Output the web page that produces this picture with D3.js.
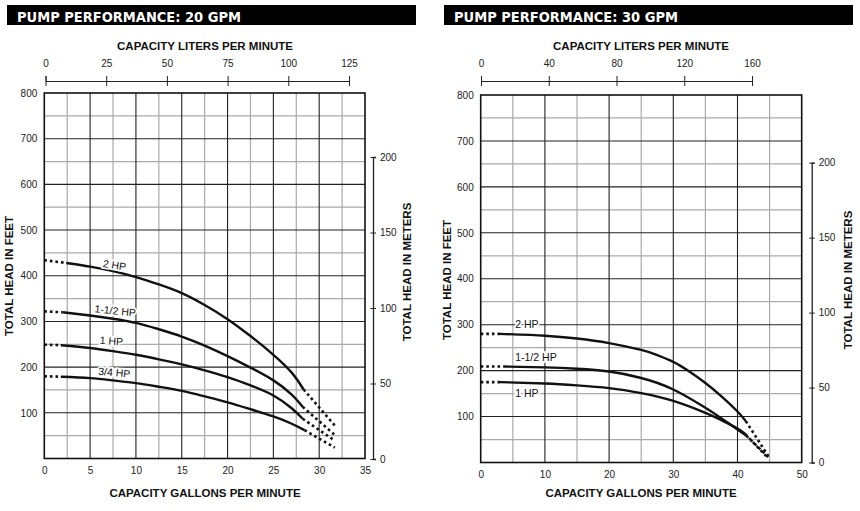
<!DOCTYPE html>
<html>
<head>
<meta charset="utf-8">
<script src="https://cdn.jsdelivr.net/npm/d3@7"></script>
<style>
  body { margin: 0; background: #fff; }
  svg { display: block; }
  .tick text { font-family: "Liberation Sans", Arial, sans-serif; font-size: 10px; fill: #222; }
  .ttl { font-family: "Liberation Sans", Arial, sans-serif; font-size: 11.5px; font-weight: bold; fill: #111; }
  .hdr { font-family: "DejaVu Sans Condensed", "DejaVu Sans", sans-serif; font-size: 14.5px; font-weight: bold; fill: #fff; }
  .lbl { font-family: "Liberation Sans", Arial, sans-serif; font-size: 10.5px; fill: #111;
         stroke: #fff; stroke-width: 3.5px; paint-order: stroke; }
</style>
</head>
<body>
<div id="chart"></div>
<script>
// ---- data: 20 GPM pumps (gpm, feet) ----
var names20 = ["2 HP", "1-1/2 HP", "1 HP", "3/4 HP"];
var start20 = [434, 322, 249, 180];           // head at 0 gpm (dotted part)
var hp2_20   = [[2.4, 428], [5, 420], [7.5, 410], [10, 397], [12.5, 381], [15, 362], [17.5, 336],
                [20, 305], [22.5, 268], [25, 227], [27, 188], [28.3, 151]];
var hp15_20  = [[2, 320], [5, 313], [7.5, 306], [10, 297], [12.5, 283], [15, 267], [17.5, 247],
                [20, 224], [22.5, 199], [25, 171], [27, 140], [28.2, 113]];
var hp1_20   = [[1.8, 248], [5, 242], [7.5, 235], [10, 227], [12.5, 217], [15, 206], [17.5, 193],
                [20, 178], [22.5, 160], [25, 138], [27, 110], [28.2, 87]];
var hp34_20  = [[1.8, 179], [5, 176], [7.5, 171], [10, 165], [12.5, 157], [15, 148], [17.5, 136],
                [20, 123], [22.5, 108], [25, 92], [27, 76], [28.4, 62]];
var end20 = [[31.8, 70], [31.8, 50], [31.7, 39], [31.7, 24]];   // dotted tails

// ---- data: 30 GPM pumps ----
var names30 = ["2 HP", "1-1/2 HP", "1 HP"];
var start30 = [280, 209, 175];
var hp2_30  = [[3, 280], [10, 276], [15, 270], [20, 260], [25, 245], [27.5, 234], [30, 219], [32.5, 198],
               [35, 173], [37.5, 144], [40, 111], [41.3, 90]];
var hp15_30 = [[3.5, 209], [10, 207], [15, 204], [20, 198], [25, 184], [30, 159], [35, 119], [37.5, 96],
               [40, 72], [41.4, 58]];
var hp1_30  = [[3, 175], [10, 172], [15, 168], [20, 162], [25, 151], [30, 134], [35, 108], [37.5, 92],
               [40, 74], [41.2, 62]];
var end30 = [[44.8, 14], [44.8, 12], [44.8, 9]];

var feetTicks = [100, 200, 300, 400, 500, 600, 700, 800];
var meterTicks = [0, 50, 100, 150, 200];
var liters20 = [0, 25, 50, 75, 100, 125];
var liters30 = [0, 40, 80, 120, 160];

var svg = d3.select("#chart").append("svg").attr("width", 860).attr("height", 511);

function drawChart(c) {
  var g = svg.append("g");
  var x = d3.scaleLinear().domain([0, c.maxX]).range(c.xr);
  var y = d3.scaleLinear().domain([0, 800]).range(c.yr);
  var lit = d3.scaleLinear().domain([0, c.litMax]).range(c.lr);
  var met = d3.scaleLinear().domain([0, 200]).range(c.mr);

  // header bar
  g.append("rect").attr("x", c.hx[0]).attr("y", 5).attr("width", c.hx[1] - c.hx[0]).attr("height", 20).attr("fill", "#000");
  g.append("text").attr("class", "hdr").attr("x", c.hx[0] + 10).attr("y", 22).text(c.title);

  // grid - minor first
  var minorX = d3.range(c.minor, c.maxX, c.minor * 2);
  var majorX = d3.range(c.minor * 2, c.maxX, c.minor * 2);
  var minorY = d3.range(50, 800, 100);
  var majorY = d3.range(100, 800, 100);
  g.selectAll(".mx").data(minorX).enter().append("line")
    .attr("x1", x).attr("x2", x).attr("y1", y(0)).attr("y2", y(800))
    .attr("stroke", "#aaa").attr("stroke-width", 1.2);
  g.selectAll(".my").data(minorY).enter().append("line")
    .attr("x1", x(0)).attr("x2", x(c.maxX)).attr("y1", y).attr("y2", y)
    .attr("stroke", "#aaa").attr("stroke-width", 1.2);
  g.selectAll(".Mx").data(majorX).enter().append("line")
    .attr("x1", x).attr("x2", x).attr("y1", y(0)).attr("y2", y(800))
    .attr("stroke", "#222").attr("stroke-width", 1.1);
  g.selectAll(".My").data(majorY).enter().append("line")
    .attr("x1", x(0)).attr("x2", x(c.maxX)).attr("y1", y).attr("y2", y)
    .attr("stroke", "#222").attr("stroke-width", 1.1);
  g.append("rect").attr("x", x(0)).attr("y", y(800))
    .attr("width", x(c.maxX) - x(0)).attr("height", y(0) - y(800))
    .attr("fill", "none").attr("stroke", "#111").attr("stroke-width", 1.6);

  // axes
  var bx = g.append("g").attr("transform", "translate(0," + y(0) + ")")
    .call(d3.axisBottom(x).tickValues(d3.range(0, c.maxX + 1, c.step)).tickSize(0).tickPadding(8));
  bx.select(".domain").remove();

  var ly = g.append("g").attr("transform", "translate(" + x(0) + ",0)")
    .call(d3.axisLeft(y).tickValues(feetTicks).tickSize(0).tickPadding(7));
  ly.select(".domain").remove();

  var tx = g.append("g").attr("transform", "translate(0,81)")
    .call(d3.axisTop(lit).tickValues(c.litTicks).tickSizeOuter(0).tickSize(5).tickPadding(9));
  tx.selectAll(".tick line").attr("y1", 5).attr("y2", -5).attr("stroke", "#222");
  tx.select(".domain").attr("stroke", "#222");

  var ry = g.append("g").attr("transform", "translate(" + c.mx + ",0)")
    .call(d3.axisRight(met).tickValues(meterTicks).tickSizeOuter(0).tickSize(3).tickPadding(4));
  ry.selectAll(".tick line").attr("x1", -2.5).attr("x2", 3).attr("stroke", "#222");
  ry.select(".domain").attr("stroke", "#222").attr("stroke-width", 1.3);

  // titles
  g.append("text").attr("class", "ttl").attr("x", c.tc).attr("y", 50).attr("text-anchor", "middle").text("CAPACITY LITERS PER MINUTE");
  g.append("text").attr("class", "ttl").attr("x", c.tc).attr("y", 497).attr("text-anchor", "middle").text("CAPACITY GALLONS PER MINUTE");
  g.append("text").attr("class", "ttl").attr("text-anchor", "middle")
    .attr("transform", "translate(" + (c.fx) + "," + c.fy + ") rotate(-90)").text("TOTAL HEAD IN FEET");
  g.append("text").attr("class", "ttl").attr("text-anchor", "middle")
    .attr("transform", "translate(" + (c.tmx) + "," + c.tmy + ") rotate(-90)").text("TOTAL HEAD IN METERS");

  // curves
  var line = d3.line().x(function(d) { return x(d[0]); }).y(function(d) { return y(d[1]); })
    .curve(d3.curveNatural);
  var straight = d3.line().x(function(d) { return x(d[0]); }).y(function(d) { return y(d[1]); });
  c.curves.forEach(function(pts, i) {
    var first = pts[0], last = pts[pts.length - 1];
    g.append("path").attr("d", line(pts)).attr("fill", "none").attr("stroke", "#111").attr("stroke-width", 2.4);
    g.append("path").attr("d", straight([[0, c.starts[i]], first])).attr("fill", "none")
      .attr("stroke", "#111").attr("stroke-width", 2.6).attr("stroke-dasharray", "2.6,3");
    g.append("path").attr("d", straight([last, c.ends[i]])).attr("fill", "none")
      .attr("stroke", "#111").attr("stroke-width", 2.6).attr("stroke-dasharray", "2.6,3");
  });

  // curve labels
  c.labels.forEach(function(l, i) {
    g.append("text").attr("class", "lbl").attr("text-anchor", "middle")
      .attr("transform", "translate(" + x(l[0]) + "," + (y(l[1]) + 3.5) + ") rotate(" + l[2] + ")")
      .text(c.names[i]);
  });
}

drawChart({
  title: "PUMP PERFORMANCE: 20 GPM", hx: [7, 416],
  maxX: 35, step: 5, minor: 2.5, xr: [44.3, 365], yr: [458.5, 93],
  litMax: 125, litTicks: liters20, lr: [45.5, 349],
  mr: [459, 157], mx: 373,
  tc: 205, fx: 13, fy: 276, tmx: 411, tmy: 272,
  curves: [hp2_20, hp15_20, hp1_20, hp34_20], starts: start20, ends: end20, names: names20,
  labels: [[7.6, 423, 9], [7.7, 323, 6], [7.3, 257, 4], [7.6, 188, 5]]
});

drawChart({
  title: "PUMP PERFORMANCE: 30 GPM", hx: [444, 853],
  maxX: 50, step: 10, minor: 5, xr: [480.7, 801.7], yr: [462.5, 95],
  litMax: 160, litTicks: liters30, lr: [481, 752],
  mr: [462.5, 162.7], mx: 811.7,
  tc: 641, fx: 451, fy: 280, tmx: 852, tmy: 280,
  curves: [hp2_30, hp15_30, hp1_30], starts: start30, ends: end30, names: names30,
  labels: [[7.2, 300, 0], [8.6, 228, 0], [7.2, 150, 0]]
});
</script>
</body>
</html>
